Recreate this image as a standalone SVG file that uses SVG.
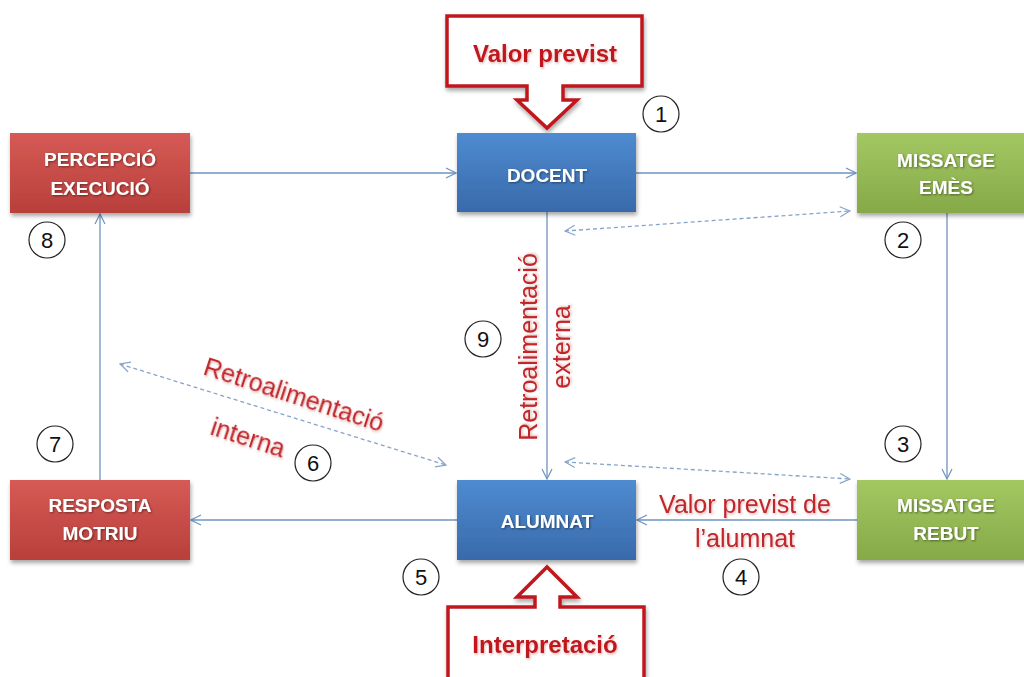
<svg xmlns="http://www.w3.org/2000/svg" width="1024" height="677" viewBox="0 0 1024 677">
<defs>
<linearGradient id="gRed" x1="0" y1="0" x2="0" y2="1"><stop offset="0" stop-color="#d65a56"/><stop offset="1" stop-color="#b83f3b"/></linearGradient>
<linearGradient id="gBlue" x1="0" y1="0" x2="0" y2="1"><stop offset="0" stop-color="#4f8bd0"/><stop offset="1" stop-color="#386aab"/></linearGradient>
<linearGradient id="gGreen" x1="0" y1="0" x2="0" y2="1"><stop offset="0" stop-color="#a3c862"/><stop offset="1" stop-color="#86a948"/></linearGradient>
<filter id="sh" x="-10%" y="-10%" width="130%" height="140%"><feDropShadow dx="1" dy="3" stdDeviation="2" flood-color="#000" flood-opacity="0.35"/></filter>
<filter id="tsh" x="-10%" y="-20%" width="120%" height="150%"><feDropShadow dx="1" dy="1" stdDeviation="1" flood-color="#000" flood-opacity="0.45"/></filter>
<filter id="rsh" x="-10%" y="-20%" width="120%" height="150%"><feDropShadow dx="1" dy="1.5" stdDeviation="1.2" flood-color="#c06060" flood-opacity="0.45"/></filter>
<marker id="ah" viewBox="0 0 12 12" refX="11" refY="6" markerWidth="12" markerHeight="12" markerUnits="userSpaceOnUse" orient="auto-start-reverse"><path d="M1,1 L11,6 L1,11" fill="none" stroke="#6f93c4" stroke-width="1.2"/></marker>
<marker id="ahd" viewBox="0 0 12 12" refX="11" refY="6" markerWidth="12" markerHeight="12" markerUnits="userSpaceOnUse" orient="auto-start-reverse"><path d="M1,1 L11,6 L1,11" fill="none" stroke="#86a4c8" stroke-width="1.2"/></marker>
</defs>
<style>
.box{filter:url(#sh)}
.bt{font-family:"Liberation Sans",Arial,sans-serif;font-weight:bold;font-size:19px;fill:#fff;text-anchor:middle;filter:url(#tsh)}
.ln{fill:none;stroke:#6f93c4;stroke-width:1.3}
.dl{fill:none;stroke:#86a4c8;stroke-width:1.3;stroke-dasharray:4 3}
.num circle{fill:#fff;stroke:#222;stroke-width:1.2}
.num text{font-family:"Liberation Sans",Arial,sans-serif;font-size:22px;fill:#111;text-anchor:middle}
.rl{font-family:"Liberation Sans",Arial,sans-serif;font-size:25px;fill:#c0252a;filter:url(#rsh)}
.co{fill:#fff;stroke:#c0191f;stroke-width:3.5;stroke-linejoin:miter;filter:url(#sh)}
.ct{font-family:"Liberation Sans",Arial,sans-serif;font-weight:bold;font-size:24px;fill:#c0191f;text-anchor:middle;filter:url(#rsh)}
</style>
<rect width="1024" height="677" fill="#fff"/>

<g id="connectors">
<line class="ln" x1="190" y1="173" x2="456" y2="173" marker-end="url(#ah)"/>
<line class="ln" x1="636" y1="173" x2="856" y2="173" marker-end="url(#ah)"/>
<line class="ln" x1="947" y1="213" x2="947" y2="479" marker-end="url(#ah)"/>
<line class="ln" x1="857" y1="520" x2="637" y2="520" marker-end="url(#ah)"/>
<line class="ln" x1="457" y1="520" x2="191" y2="520" marker-end="url(#ah)"/>
<line class="ln" x1="100" y1="480" x2="100" y2="214" marker-end="url(#ah)"/>
<line class="ln" x1="547" y1="212" x2="547" y2="479" marker-end="url(#ah)"/>
<line class="dl" x1="565" y1="231" x2="850" y2="211" marker-start="url(#ahd)" marker-end="url(#ahd)"/>
<line class="dl" x1="565" y1="462" x2="850" y2="479" marker-start="url(#ahd)" marker-end="url(#ahd)"/>
<line class="dl" x1="120" y1="364" x2="446" y2="465" marker-start="url(#ahd)" marker-end="url(#ahd)"/>
</g>

<g id="callout-valor">
<path class="co" d="M447,16 H642 V86 H563 V100 H577 L547,128 L517,100 H527 V86 H447 Z"/>
<text class="ct" x="545" y="62">Valor previst</text>
</g>

<g id="callout-interpretacio">
<path class="co" d="M448,690 V607 H535 V597 H517 L547,567 L577,597 H560 V607 H644 V690 Z"/>
<text class="ct" x="545" y="653" font-size="25">Interpretació</text>
</g>

<g id="percepcio">
<rect class="box" x="10" y="133" width="180" height="80" fill="url(#gRed)"/>
<text class="bt" x="100" y="166">PERCEPCIÓ</text>
<text class="bt" x="100" y="195">EXECUCIÓ</text>
</g>
<g id="docent">
<rect class="box" x="457" y="133" width="179" height="79" fill="url(#gBlue)"/>
<text class="bt" x="547" y="182" font-size="20">DOCENT</text>
</g>
<g id="missatge-emes">
<rect class="box" x="857" y="133" width="180" height="80" fill="url(#gGreen)"/>
<text class="bt" x="946" y="167">MISSATGE</text>
<text class="bt" x="946" y="194">EMÈS</text>
</g>
<g id="resposta">
<rect class="box" x="10" y="480" width="180" height="80" fill="url(#gRed)"/>
<text class="bt" x="100" y="512">RESPOSTA</text>
<text class="bt" x="100" y="540">MOTRIU</text>
</g>
<g id="alumnat">
<rect class="box" x="457" y="480" width="179" height="80" fill="url(#gBlue)"/>
<text class="bt" x="547" y="528" font-size="20">ALUMNAT</text>
</g>
<g id="missatge-rebut">
<rect class="box" x="857" y="480" width="180" height="80" fill="url(#gGreen)"/>
<text class="bt" x="946" y="512">MISSATGE</text>
<text class="bt" x="946" y="540">REBUT</text>
</g>

<g id="labels">
<text class="rl" x="745" y="513" text-anchor="middle">Valor previst de</text>
<text class="rl" x="745" y="547" text-anchor="middle">l’alumnat</text>
<text class="rl" text-anchor="middle" font-size="26" transform="translate(537,347) rotate(-90)">Retroalimentació</text>
<text class="rl" text-anchor="middle" transform="translate(570,347) rotate(-90)">externa</text>
<text class="rl" font-size="26" transform="translate(202,374) rotate(18)">Retroalimentació</text>
<text class="rl" font-size="26" transform="translate(209,434) rotate(18)">interna</text>
</g>

<g id="numbers" class="num">
<g><circle cx="661" cy="114" r="18"/><text x="661" y="122">1</text></g>
<g><circle cx="903" cy="240" r="18"/><text x="903" y="248">2</text></g>
<g><circle cx="903" cy="444" r="18"/><text x="903" y="452">3</text></g>
<g><circle cx="741" cy="577" r="18"/><text x="741" y="585">4</text></g>
<g><circle cx="421" cy="577" r="18"/><text x="421" y="585">5</text></g>
<g><circle cx="313" cy="463" r="18"/><text x="313" y="471">6</text></g>
<g><circle cx="55" cy="444" r="18"/><text x="55" y="452">7</text></g>
<g><circle cx="47" cy="240" r="18"/><text x="47" y="248">8</text></g>
<g><circle cx="483" cy="339" r="18"/><text x="483" y="347">9</text></g>
</g>
</svg>
